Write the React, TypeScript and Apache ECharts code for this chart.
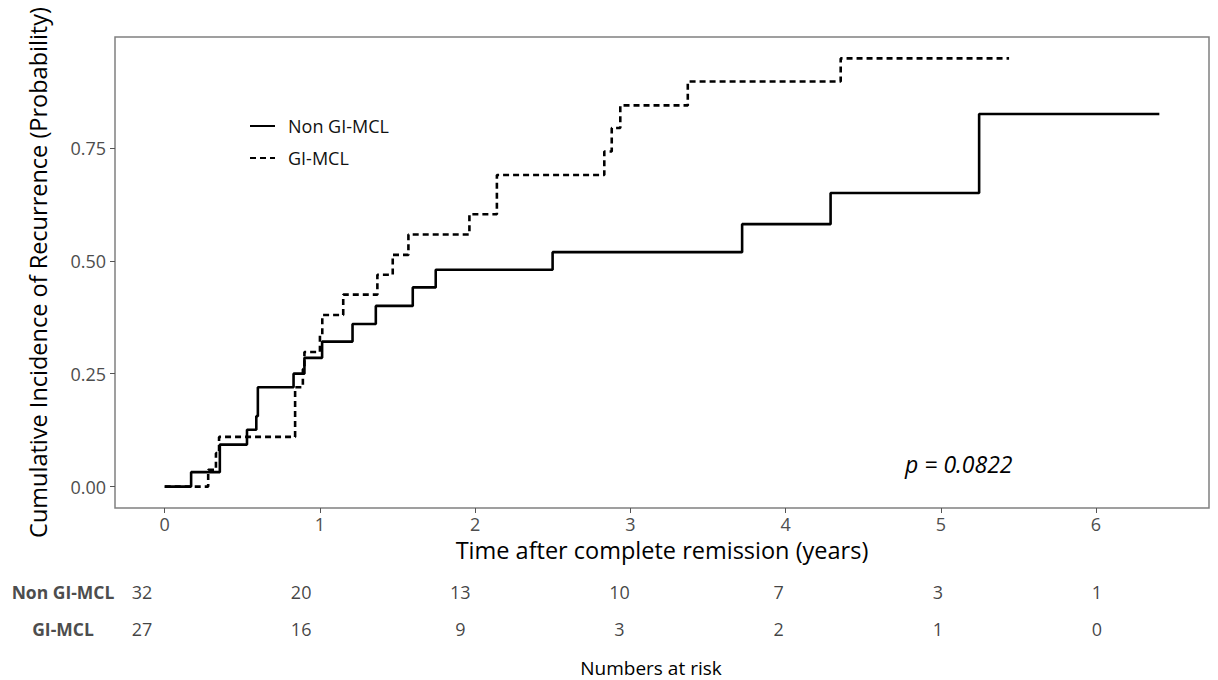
import React, { useEffect, useRef } from "react";
import * as echarts from "echarts";

// ---- data ----
const groups = ["Non GI-MCL", "GI-MCL"];

const nonGiTimes = [0, 0.17, 0.355, 0.53, 0.59, 0.6, 0.83, 0.9, 1.014, 1.21, 1.36, 1.598, 1.746, 2.499, 3.72, 4.29, 5.247, 6.408];
const nonGiProb = [0, 0.032, 0.093, 0.126, 0.156, 0.22, 0.25, 0.285, 0.321, 0.36, 0.4, 0.441, 0.48, 0.519, 0.581, 0.65, 0.825, 0.825];

const giTimes = [0, 0.28, 0.33, 0.35, 0.84, 0.89, 0.9, 1.0, 1.015, 1.15, 1.37, 1.469, 1.57, 1.963, 2.14, 2.832, 2.88, 2.935, 3.37, 4.355, 5.44];
const giProb = [0, 0.037, 0.074, 0.11, 0.22, 0.26, 0.298, 0.335, 0.38, 0.425, 0.469, 0.513, 0.558, 0.603, 0.69, 0.742, 0.794, 0.844, 0.897, 0.948, 0.948];

const riskTimes = [0, 1, 2, 3, 4, 5, 6];
const riskNonGi = [32, 20, 13, 10, 7, 3, 1];
const riskGi = [27, 16, 9, 3, 2, 1, 0];

const xTicks = [0, 1, 2, 3, 4, 5, 6];
const yTicks = [0, 0.25, 0.5, 0.75];

const pText = "p = 0.0822";
const riskTitle = "Numbers at risk";

const FONT = '"Open Sans", "Noto Sans", sans-serif';

export default function App() {
  const ref = useRef<HTMLDivElement>(null);

  useEffect(() => {
    if (!ref.current) return;
    const chart = echarts.init(ref.current, null, { renderer: "svg" });

    const nonGiData = nonGiTimes.map((t, i) => [t, nonGiProb[i]]);
    const giData = giTimes.map((t, i) => [t, giProb[i]]);
    const riskNonData = riskTimes.map((t, i) => [t, groups[0], riskNonGi[i]]);
    const riskGiData = riskTimes.map((t, i) => [t, groups[1], riskGi[i]]);

    const riskLabel = {
      show: true,
      position: "inside",
      formatter: (p: any) => String(p.value[2]),
      fontSize: 18,
      color: "#111",
      fontFamily: FONT,
    };

    chart.setOption({
      animation: false,
      backgroundColor: "#fff",
      textStyle: { fontFamily: FONT },
      grid: [
        {
          left: 115,
          top: 37,
          right: 9,
          bottom: 172,
          show: true,
          borderColor: "#808080",
          borderWidth: 1.5,
          backgroundColor: "#fff",
        },
        { left: 142, right: 121, top: 573, height: 74 },
      ],
      legend: {
        data: groups,
        orient: "vertical",
        left: 249,
        top: 117,
        itemWidth: 25,
        itemHeight: 14,
        itemGap: 14,
        padding: 0,
        itemStyle: { color: "transparent", borderColor: "transparent", borderWidth: 0 },
        textStyle: { fontSize: 18, color: "#111", fontFamily: FONT, padding: [0, 0, 0, 8] },
      },
      xAxis: [
        {
          type: "value",
          gridIndex: 0,
          min: -0.3204,
          max: 6.728,
          axisLine: { show: false, onZero: false },
          splitLine: { show: false },
          axisTick: { show: true, customValues: xTicks, length: 5, lineStyle: { color: "#555" } },
          axisLabel: { customValues: xTicks, color: "#4d4d4d", fontSize: 18, margin: 7, fontFamily: FONT },
          name: "Time after complete remission (years)",
          nameLocation: "middle",
          nameGap: 30,
          nameTextStyle: { fontSize: 23.5, color: "#000", fontFamily: FONT },
        },
        {
          type: "value",
          gridIndex: 1,
          min: 0,
          max: 6,
          show: false,
        },
      ],
      yAxis: [
        {
          type: "value",
          gridIndex: 0,
          min: -0.0474,
          max: 0.9954,
          axisLine: { show: false, onZero: false },
          splitLine: { show: false },
          axisTick: { show: true, customValues: yTicks, length: 5, lineStyle: { color: "#555" } },
          axisLabel: {
            customValues: yTicks,
            formatter: (v: number) => v.toFixed(2),
            color: "#4d4d4d",
            fontSize: 18,
            margin: 9,
            fontFamily: FONT,
          },
          name: "Cumulative Incidence of Recurrence (Probability)",
          nameLocation: "middle",
          nameGap: 65,
          nameTextStyle: { fontSize: 23.5, color: "#000", fontFamily: FONT },
        },
        {
          type: "category",
          gridIndex: 1,
          data: groups,
          inverse: true,
          axisLine: { show: false, onZero: false },
          axisTick: { show: false },
          splitLine: { show: false },
          axisLabel: {
            fontWeight: "bold",
            color: "#4d4d4d",
            fontSize: 17.5,
            align: "center",
            margin: 79,
            fontFamily: FONT,
          },
        },
      ],
      series: [
        {
          name: groups[0],
          type: "line",
          step: "end",
          data: nonGiData,
          xAxisIndex: 0,
          yAxisIndex: 0,
          symbol: "none",
          color: "#000",
          lineStyle: { color: "#000", width: 2.6, type: "solid" },
        },
        {
          name: groups[1],
          type: "line",
          step: "end",
          data: giData,
          xAxisIndex: 0,
          yAxisIndex: 0,
          symbol: "none",
          color: "#000",
          lineStyle: { color: "#000", width: 2.6, type: [6, 4] },
        },
        {
          name: "risk-non",
          type: "scatter",
          xAxisIndex: 1,
          yAxisIndex: 1,
          data: riskNonData,
          symbolSize: 1,
          itemStyle: { color: "transparent" },
          label: riskLabel,
        },
        {
          name: "risk-gi",
          type: "scatter",
          xAxisIndex: 1,
          yAxisIndex: 1,
          data: riskGiData,
          symbolSize: 1,
          itemStyle: { color: "transparent" },
          label: riskLabel,
        },
      ],
      graphic: [
        {
          type: "text",
          left: 905,
          top: 452,
          style: { text: pText, font: 'italic 23px "Open Sans", sans-serif', fill: "#000" },
        },
        {
          type: "text",
          x: 651,
          y: 668,
          style: {
            text: riskTitle,
            font: '19px "Open Sans", sans-serif',
            fill: "#000",
            textAlign: "center",
            textVerticalAlign: "middle",
          },
        },
      ],
    });

    return () => chart.dispose();
  }, []);

  return (
    <div
      ref={ref}
      style={{ position: "fixed", left: 0, top: 0, width: 1218, height: 680 }}
    />
  );
}
